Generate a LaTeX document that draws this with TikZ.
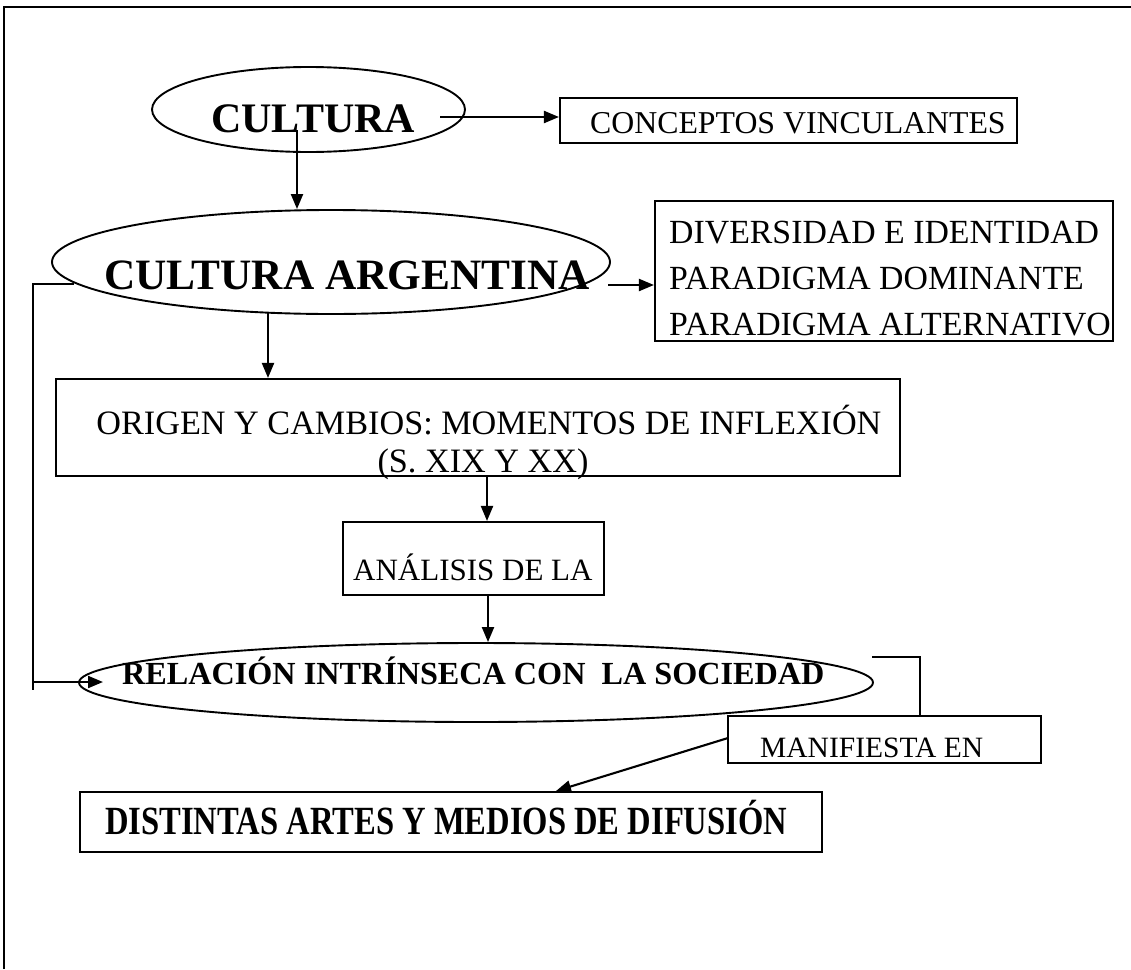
\documentclass[tikz,border=0pt]{standalone}
\usepackage{fontspec}
\setmainfont{Liberation Serif}
\usetikzlibrary{shapes.geometric,arrows.meta}
\newcommand\setfsz[1]{\fontsize{#1}{#1}\selectfont}
\begin{document}
\begin{tikzpicture}[x=1pt,y=-1pt,
  ln/.style={line width=2.1pt},
  arr/.style={line width=2.1pt,-{Triangle[length=15pt,width=12pt]}},
  oval/.style={draw,ellipse,line width=1.9pt,inner sep=0pt},
  boxn/.style={draw,rectangle,line width=2.1pt,inner sep=0pt},
  lbl/.style={inner sep=0pt,anchor=base west},
  lblc/.style={inner sep=0pt,anchor=base},
]
\useasboundingbox (0,0) rectangle (1131,969);
\draw[line width=2.2pt] (4,969) -- (4,7) -- (1131,7);

% shapes
\node[oval,minimum width=313,minimum height=85] (cult) at (308.5,109.5) {};
\node[boxn,minimum width=457,minimum height=45] (conc) at (788.5,120.5) {};
\node[oval,minimum width=558,minimum height=104] (arg) at (331,262) {};
\node[boxn,minimum width=458,minimum height=140] (div) at (884,271) {};
\node[boxn,minimum width=844,minimum height=97] (orig) at (478,427.5) {};
\node[boxn,minimum width=261,minimum height=73] (anal) at (473.5,558.5) {};
\node[oval,minimum width=794,minimum height=79] (rel) at (476,682.5) {};
\node[boxn,minimum width=313,minimum height=47] (mani) at (884.5,739.5) {};
\node[boxn,minimum width=742,minimum height=60] (dist) at (451,822) {};

% texts
\node[lbl,font=\setfsz{42}\bfseries] (tcult) at (211,132) {CULTURA};
\node[lbl,font=\setfsz{31.8}] (tconc) at (590,133) {CONCEPTOS VINCULANTES};
\node[lbl,font=\setfsz{43.3}\bfseries] (targ) at (104,289) {CULTURA ARGENTINA};
\node[lbl,font=\setfsz{33.8}] (tdiv1) at (669,243) {DIVERSIDAD E IDENTIDAD};
\node[lbl,font=\setfsz{33.8}] (tdiv2) at (669,289) {PARADIGMA DOMINANTE};
\node[lbl,font=\setfsz{33.8}] (tdiv3) at (669,335) {PARADIGMA ALTERNATIVO};
\node[lblc,font=\setfsz{34.2}] (torig1) at (489,434) {ORIGEN Y CAMBIOS: MOMENTOS DE INFLEXIÓN};
\node[lblc,font=\setfsz{34.2}] (torig2) at (483,472) {(S. XIX Y XX)};
\node[lbl,font=\setfsz{31}] (tanal) at (353,580) {ANÁLISIS DE LA};
\node[lbl,font=\setfsz{32.2}\bfseries] (trel) at (122,684) {RELACIÓN INTRÍNSECA CON\ \ LA SOCIEDAD};
\node[lbl,font=\setfsz{29.5}] (tmani) at (760,757) {MANIFIESTA EN};
\node[lbl,font=\setfsz{40}\bfseries] (tdist) at (105,834) {\scalebox{0.815}[1]{DISTINTAS ARTES Y MEDIOS DE DIFUSIÓN}};

% connector anchors
\coordinate (c1) at (440,117);
\coordinate (c2) at (297,130);
\coordinate (c3) at (608,285);
\coordinate (c4) at (268,312);
\coordinate (c5) at (487,476);
\coordinate (c6) at (488,595);
\coordinate (l1) at (74,284);
\coordinate (l2) at (33,284);
\coordinate (l3) at (33,690);
\coordinate (l4) at (33,682);
\coordinate (l5) at (103,682);
\coordinate (r1) at (872,657);
\coordinate (r2) at (920,657);
\coordinate (m1) at (728,738);
\coordinate (m2) at (556,791);

% connectors
\draw[arr] (c1) -- (c1 -| conc.west);
\draw[arr] (c2) -- (c2 |- arg.north);
\draw[arr] (c3) -- (c3 -| div.west);
\draw[arr] (c4) -- (c4 |- orig.north);
\draw[arr] (c5) -- (c5 |- anal.north);
\draw[arr] (c6) -- (c6 |- rel.north);
\draw[ln] (l1) -- (l2) -- (l3);
\draw[arr] (l4) -- (l5);
\draw[ln] (r1) -- (r2) -- (r2 |- mani.north);
\draw[arr] (m1) -- (m2);
\end{tikzpicture}
\end{document}
